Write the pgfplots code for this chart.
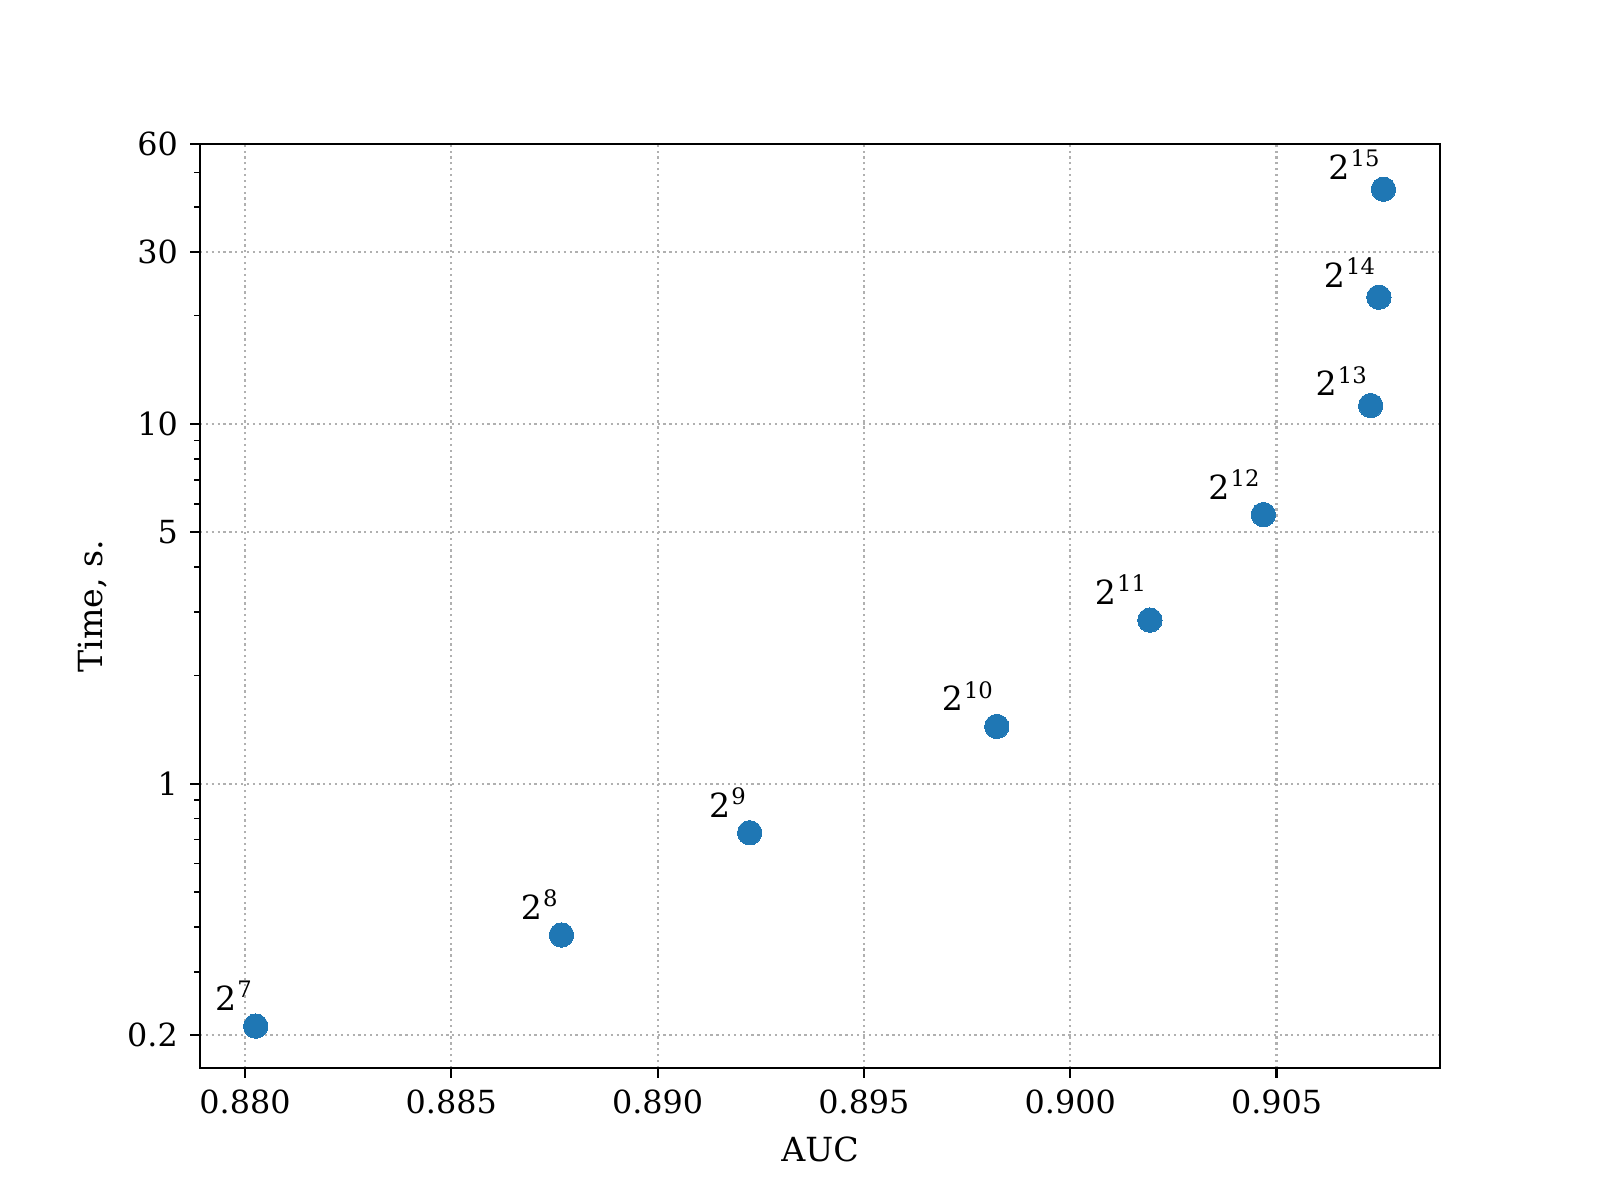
\documentclass[border=0pt]{standalone}
\usepackage{fontspec}
\setmainfont{DejaVu Serif}
\usepackage{pgfplots}
\pgfplotsset{compat=1.18}
\definecolor{mblue}{HTML}{1F77B4}
\definecolor{grd}{HTML}{B0B0B0}
\newcommand{\pw}[1]{{\fontsize{12}{14}\selectfont 2\kern0.4pt\raisebox{4.6pt}{\fontsize{8.2}{9}\selectfont #1}}}
\begin{document}
\begin{tikzpicture}
\useasboundingbox (-72.27pt,-47.70pt) rectangle (505.89pt,385.92pt);
\begin{axis}[
  at={(0,0)}, anchor=south west, scale only axis,
  width=448.07pt, height=333.9pt,
  ymode=log,
  xmin=0.87891, xmax=0.90896, ymin=0.1622, ymax=60,
  xtick={0.880,0.885,0.890,0.895,0.900,0.905},
  xticklabels={0.880,0.885,0.890,0.895,0.900,0.905},
  ytick={0.2,1,5,10,30,60},
  yticklabels={0.2,1,5,10,30,60},
  minor ytick={0.3,0.4,0.5,0.6,0.7,0.8,0.9,2,3,4,6,7,8,9,20,40,50},
  xtick pos=left, ytick pos=left,
  tick align=outside,
  major tick length=3.5pt, minor tick length=2pt,
  every tick/.style={black, line width=0.8pt},
  minor tick style={black, line width=0.6pt},
  axis line style={line width=0.8pt},
  grid=major,
  major grid style={color=grd, line width=0.8pt, dash pattern=on 0.8pt off 1.32pt},
  /pgf/number format/assume math mode=true,
  ticklabel style={font=\fontsize{11.5}{13}\selectfont},
  xticklabel style={yshift=-1pt},
  yticklabel style={xshift=-1pt},
  label style={font=\fontsize{12}{14}\selectfont},
  xlabel={AUC},
  ylabel={Time, s.},
  xlabel style={at={(axis description cs:0.5,-0.0883)}, anchor=center},
  ylabel style={at={(axis description cs:-0.0863,0.5)}, anchor=center, rotate=0},
  clip=false,
]
\addplot[only marks, mark=*, mark size=4.4pt, mark options={fill=mblue, draw=mblue, line width=0pt}] coordinates {
  (0.88026,0.212)
  (0.88767,0.380)
  (0.89223,0.731)
  (0.89822,1.443)
  (0.90193,2.85)
  (0.90468,5.60)
  (0.90728,11.25)
  (0.90748,22.5)
  (0.90759,44.9)
};
\node[anchor=base east, inner sep=0pt, xshift=-1.2pt, yshift=5.6pt] at (axis cs:0.88026,0.212) {\pw{7}};
\node[anchor=base east, inner sep=0pt, xshift=-1.2pt, yshift=5.6pt] at (axis cs:0.88767,0.380) {\pw{8}};
\node[anchor=base east, inner sep=0pt, xshift=-1.2pt, yshift=5.6pt] at (axis cs:0.89223,0.731) {\pw{9}};
\node[anchor=base east, inner sep=0pt, xshift=-1.2pt, yshift=5.6pt] at (axis cs:0.89822,1.443) {\pw{10}};
\node[anchor=base east, inner sep=0pt, xshift=-1.2pt, yshift=5.6pt] at (axis cs:0.90193,2.85) {\pw{11}};
\node[anchor=base east, inner sep=0pt, xshift=-1.2pt, yshift=5.6pt] at (axis cs:0.90468,5.60) {\pw{12}};
\node[anchor=base east, inner sep=0pt, xshift=-1.2pt, yshift=3.5pt] at (axis cs:0.90728,11.25) {\pw{13}};
\node[anchor=base east, inner sep=0pt, xshift=-1.2pt, yshift=3.5pt] at (axis cs:0.90748,22.5) {\pw{14}};
\node[anchor=base east, inner sep=0pt, xshift=-1.2pt, yshift=3.5pt] at (axis cs:0.90759,44.9) {\pw{15}};
\end{axis}
\end{tikzpicture}
\end{document}
